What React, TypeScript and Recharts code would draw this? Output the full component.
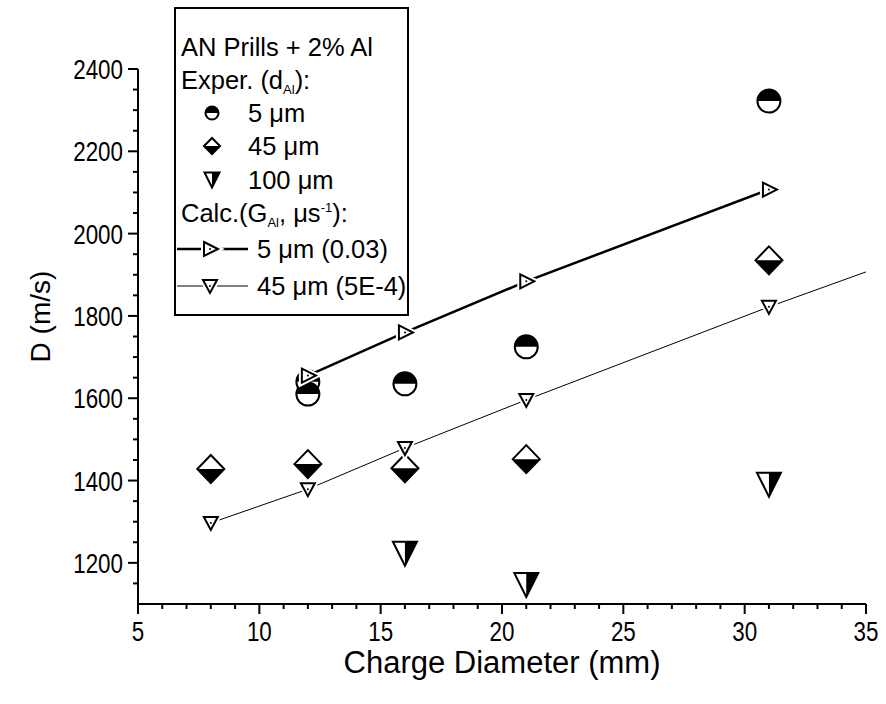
import React from "react";
import { ScatterChart, Scatter, XAxis, YAxis, Label } from "recharts";

const FONT = '"Liberation Sans", Arial, sans-serif';

// experimental points, charge diameter (mm) -> D (m/s)
const exp5Diam = [12, 12, 16, 21, 31];
const exp5D = [1640, 1610, 1635, 1725, 2322];
const exp45Diam = [8, 12, 16, 21, 31];
const exp45D = [1428, 1440, 1430, 1452, 1935];
const exp100Diam = [16, 21, 31];
const exp100D = [1222, 1146, 1390];

// calculated curves
const calc5Diam = [12, 16, 21, 31];
const calc5D = [1655, 1760, 1884, 2107];
const calc45Diam = [8, 12, 16, 21, 31, 35];
const calc45D = [1297, 1379, 1479, 1596, 1822, 1907];
const calc45Marked = [true, true, true, true, true, false];

const xMajor = [5, 10, 15, 20, 25, 30, 35];
const yMajor = [1200, 1400, 1600, 1800, 2000, 2200, 2400];
const xTicks = Array.from({ length: 31 }, (_, i) => 5 + i);
const yTicks = Array.from({ length: 26 }, (_, i) => 1150 + i * 50);

const pts = (xs: number[], ys: number[], marked?: boolean[]) =>
  xs.map((x, i) => ({ x, y: ys[i], marked: marked ? marked[i] : true }));

const exp5 = pts(exp5Diam, exp5D);
const exp45 = pts(exp45Diam, exp45D);
const exp100 = pts(exp100Diam, exp100D);
const calc5 = pts(calc5Diam, calc5D);
const calc45 = pts(calc45Diam, calc45D, calc45Marked);

// ---- marker shapes ----
const HalfCircle = ({ cx, cy, r = 11.5 }: any) => (
  <g>
    <circle cx={cx} cy={cy} r={r} fill="#fff" />
    <path d={`M${cx - r},${cy} A${r},${r} 0 0 1 ${cx + r},${cy} Z`} fill="#000" />
    <circle cx={cx} cy={cy} r={r} fill="none" stroke="#000" strokeWidth={2} />
  </g>
);

const HalfDiamond = ({ cx, cy, w = 13.5, h = 14 }: any) => (
  <g>
    <path d={`M${cx - w},${cy} L${cx},${cy - h} L${cx + w},${cy} Z`} fill="#fff" />
    <path d={`M${cx - w},${cy} L${cx},${cy + h} L${cx + w},${cy} Z`} fill="#000" />
    <path
      d={`M${cx - w},${cy} L${cx},${cy - h} L${cx + w},${cy} L${cx},${cy + h} Z`}
      fill="none"
      stroke="#000"
      strokeWidth={2}
      strokeLinejoin="miter"
    />
  </g>
);

const HalfTriDown = ({ cx, cy, w = 12, h = 12 }: any) => (
  <g>
    <path d={`M${cx - w},${cy - h} L${cx},${cy - h} L${cx},${cy + h} Z`} fill="#fff" />
    <path d={`M${cx},${cy - h} L${cx + w},${cy - h} L${cx},${cy + h} Z`} fill="#000" />
    <path
      d={`M${cx - w},${cy - h} L${cx + w},${cy - h} L${cx},${cy + h} Z`}
      fill="none"
      stroke="#000"
      strokeWidth={2}
    />
  </g>
);

const TriRight = ({ cx, cy, s = 1 }: any) => {
  const d = `M${cx - 6 * s},${cy - 7 * s} L${cx + 8 * s},${cy} L${cx - 6 * s},${cy + 7 * s} Z`;
  return (
    <g>
      <path d={d} fill="#fff" stroke="#fff" strokeWidth={6} />
      <path d={d} fill="#fff" stroke="#000" strokeWidth={2} />
      <circle cx={cx} cy={cy} r={1} fill="#000" />
    </g>
  );
};

const TriDown = ({ cx, cy, s = 1 }: any) => {
  const d = `M${cx - 7 * s},${cy - 6 * s} L${cx + 7 * s},${cy - 6 * s} L${cx},${cy + 7 * s} Z`;
  return (
    <g>
      <path d={d} fill="#fff" stroke="#fff" strokeWidth={6} />
      <path d={d} fill="#fff" stroke="#000" strokeWidth={2} />
      <circle cx={cx} cy={cy} r={1} fill="#000" />
    </g>
  );
};

// ---- axis ticks with minor marks ----
const XTick = (props: any) => {
  const { x, y, payload } = props;
  const v = payload.value;
  const major = xMajor.includes(v);
  return (
    <g>
      <line x1={x} x2={x} y1={y} y2={y + (major ? 10 : 5)} stroke="#000" strokeWidth={2} />
      {major && (
        <text
          transform={`translate(${x},${y + 37}) scale(0.8,1)`}
          textAnchor="middle"
          fontSize={28}
          fontFamily={FONT}
          fill="#000"
        >
          {v}
        </text>
      )}
    </g>
  );
};

const YTick = (props: any) => {
  const { x, y, payload } = props;
  const v = payload.value;
  const major = yMajor.includes(v);
  return (
    <g>
      <line x1={x - (major ? 10 : 5)} x2={x} y1={y} y2={y} stroke="#000" strokeWidth={2} />
      {major && (
        <text
          transform={`translate(${x - 15},${y + 10}) scale(0.8,1)`}
          textAnchor="end"
          fontSize={28}
          fontFamily={FONT}
          fill="#000"
        >
          {v}
        </text>
      )}
    </g>
  );
};

const XTitle = (props: any) => {
  const { x, y, width } = props.viewBox;
  return (
    <text x={x + width / 2} y={y + 69} textAnchor="middle" fontSize={31} fontFamily={FONT} fill="#000">
      Charge Diameter (mm)
    </text>
  );
};

const YTitle = (props: any) => {
  const { x, y, height } = props.viewBox;
  return (
    <text
      transform={`translate(${x + 50},${y + height / 2 - 20}) rotate(-90)`}
      textAnchor="middle"
      fontSize={28}
      fontFamily={FONT}
      fill="#000"
    >
      D (m/s)
    </text>
  );
};

// ---- legend (drawn over the plot, page coordinates) ----
const LegendBox = () => {
  const fs = 25.5;
  const t = (cy: number) => cy + 9;
  return (
    <svg
      width={886}
      height={704}
      style={{ position: "absolute", left: 0, top: 0, pointerEvents: "none" }}
    >
      <rect x={175} y={8} width={233} height={307} fill="#fff" stroke="#000" strokeWidth={2} />
      <g fontFamily={FONT} fontSize={fs} fill="#000">
        <text x={181} y={t(47)}>AN Prills + 2% Al</text>
        <text x={181} y={t(80)}>
          Exper. (d
          <tspan fontSize={13} dy={5}>Al</tspan>
          <tspan dy={-5}>):</tspan>
        </text>
        <text x={248} y={t(113)}>5 μm</text>
        <text x={248} y={t(146)}>45 μm</text>
        <text x={248} y={t(180)}>100 μm</text>
        <text x={181} y={t(213)}>
          Calc.(G
          <tspan fontSize={13} dy={5}>Al</tspan>
          <tspan dy={-5}>, μs</tspan>
          <tspan fontSize={13} dy={-10}>-1</tspan>
          <tspan dy={10}>):</tspan>
        </text>
        <text x={257} y={t(249)}>5 μm (0.03)</text>
        <text x={257} y={t(286)}>45 μm (5E-4)</text>
      </g>
      <HalfCircle cx={212} cy={113} r={6.5} />
      <HalfDiamond cx={212} cy={146} w={8} h={8} />
      <HalfTriDown cx={212} cy={180} w={7.5} h={7.5} />
      <line x1={177} x2={248} y1={249} y2={249} stroke="#000" strokeWidth={2.5} />
      <TriRight cx={210} cy={249} />
      <line x1={177} x2={248} y1={286} y2={286} stroke="#000" strokeWidth={1} />
      <TriDown cx={210} cy={286} />
    </svg>
  );
};

export default function App() {
  return (
    <div
      style={{
        position: "absolute",
        left: 0,
        top: 0,
        width: 886,
        height: 704,
        background: "#fff",
        fontFamily: FONT,
      }}
    >
      <ScatterChart width={886} height={704} margin={{ top: 69, right: 20, bottom: 0, left: 0 }}>
        <XAxis
          type="number"
          dataKey="x"
          domain={[5, 35]}
          ticks={xTicks}
          interval={0}
          allowDataOverflow
          height={100}
          tickSize={0}
          tickMargin={0}
          tickLine={false}
          tick={<XTick />}
          axisLine={{ stroke: "#000", strokeWidth: 2 }}
        >
          <Label content={<XTitle />} />
        </XAxis>
        <YAxis
          type="number"
          dataKey="y"
          domain={[1100, 2400]}
          ticks={yTicks}
          interval={0}
          allowDataOverflow
          width={138}
          tickSize={0}
          tickMargin={0}
          tickLine={false}
          tick={<YTick />}
          axisLine={{ stroke: "#000", strokeWidth: 2 }}
        >
          <Label content={<YTitle />} />
        </YAxis>
        <Scatter
          name="exp 5 um"
          data={exp5}
          isAnimationActive={false}
          shape={(p: any) => <HalfCircle cx={p.cx} cy={p.cy} />}
        />
        <Scatter
          name="exp 45 um"
          data={exp45}
          isAnimationActive={false}
          shape={(p: any) => <HalfDiamond cx={p.cx} cy={p.cy} />}
        />
        <Scatter
          name="exp 100 um"
          data={exp100}
          isAnimationActive={false}
          shape={(p: any) => <HalfTriDown cx={p.cx} cy={p.cy} />}
        />
        <Scatter
          name="calc 5 um"
          data={calc5}
          isAnimationActive={false}
          line={{ stroke: "#000", strokeWidth: 2.5 }}
          lineType="joint"
          shape={(p: any) => <TriRight cx={p.cx} cy={p.cy} />}
        />
        <Scatter
          name="calc 45 um"
          data={calc45}
          isAnimationActive={false}
          line={{ stroke: "#000", strokeWidth: 1 }}
          lineType="joint"
          shape={(p: any) =>
            p.payload && p.payload.marked ? <TriDown cx={p.cx} cy={p.cy} /> : <g />
          }
        />
      </ScatterChart>
      <LegendBox />
    </div>
  );
}
